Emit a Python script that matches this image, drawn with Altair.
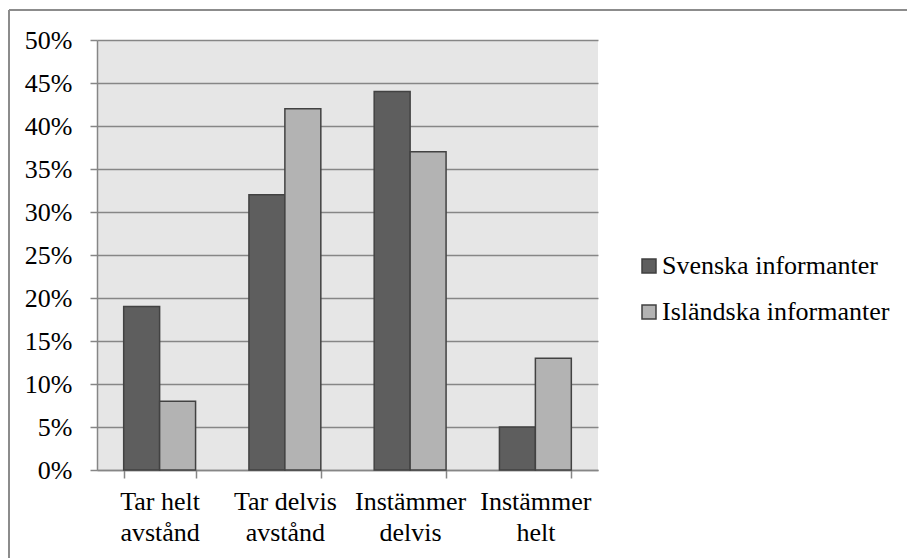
import altair as alt
import pandas as pd

# Survey answers per response category, share of informants (%)
categories = ["Tar helt avstånd", "Tar delvis avstånd", "Instämmer delvis", "Instämmer helt"]
# line break used for the two-line axis labels
label_lines = ["Tar helt|avstånd", "Tar delvis|avstånd", "Instämmer|delvis", "Instämmer|helt"]
series = ["Svenska informanter", "Isländska informanter"]
svenska = [19, 32, 44, 5]
islandska = [8, 42, 37, 13]
series_colors = ["#5e5e5e", "#b3b3b3"]
y_ticks = [0, 5, 10, 15, 20, 25, 30, 35, 40, 45, 50]

rows = []
for cat, lab, sv, isl in zip(categories, label_lines, svenska, islandska):
    rows.append({"kategori": lab, "grupp": series[0], "andel": sv})
    rows.append({"kategori": lab, "grupp": series[1], "andel": isl})
df = pd.DataFrame(rows)

FONT = "'Times New Roman', 'Liberation Serif', serif"
AXIS_GRAY = "#868686"

bars = alt.Chart(df).mark_bar(stroke="#424242", strokeWidth=1.5).encode(
    x=alt.X(
        "kategori:N",
        sort=label_lines,
        title=None,
        scale=alt.Scale(paddingInner=0.426, paddingOuter=0.213),
        axis=alt.Axis(
            labelAngle=0,
            labelExpr="split(datum.label, '|')",
            labelFont=FONT,
            labelFontSize=26,
            labelColor="black",
            labelLineHeight=31,
            labelPadding=10,
            tickBand="extent",
            tickSize=8,
            tickColor=AXIS_GRAY,
            tickWidth=1.5,
            domainColor=AXIS_GRAY,
            domainWidth=1.5,
            grid=False,
        ),
    ),
    xOffset=alt.XOffset("grupp:N", sort=series, scale=alt.Scale(paddingInner=0, paddingOuter=0)),
    y=alt.Y(
        "andel:Q",
        title=None,
        scale=alt.Scale(domain=[0, 50], nice=False),
        axis=alt.Axis(
            values=y_ticks,
            labelExpr="datum.value + '%'",
            labelFont=FONT,
            labelFontSize=26,
            labelColor="black",
            labelPadding=18,
            tickSize=7,
            tickColor=AXIS_GRAY,
            tickWidth=1.5,
            domainColor=AXIS_GRAY,
            domainWidth=1.5,
            gridColor=AXIS_GRAY,
            gridWidth=1.5,
        ),
    ),
    color=alt.Color(
        "grupp:N",
        sort=series,
        scale=alt.Scale(domain=series, range=series_colors),
        legend=alt.Legend(
            title=None,
            orient="none",
            legendX=539,
            legendY=213,
            padding=0,
            symbolType="square",
            symbolSize=196,
            symbolStrokeColor="#404040",
            symbolStrokeWidth=1.5,
            labelFont=FONT,
            labelFontSize=26,
            labelColor="black",
            labelOffset=0,
            rowPadding=20,
            labelLimit=400,
        ),
    ),
)

# outer frame: top and left edges
frame_top = alt.Chart(alt.Data(values=[{}])).mark_rule(color="#8c8c8c", strokeWidth=2).encode(
    x=alt.value(-88), x2=alt.value(810), y=alt.value(-30)
)
frame_left = alt.Chart(alt.Data(values=[{}])).mark_rule(color="#8c8c8c", strokeWidth=2).encode(
    x=alt.value(-88), y=alt.value(-30), y2=alt.value(518)
)

chart = (
    alt.layer(bars, frame_top, frame_left)
    .properties(
        width=501,
        height=430,
        padding={"left": 97, "top": 40, "right": 309, "bottom": 88},
        autosize=alt.AutoSizeParams(type="none"),
        background="white",
    )
    .configure(font=FONT)
    .configure_view(fill="#e6e6e6", stroke=None)
)

chart.save("out.html", embed_options={"renderer": "svg", "actions": False})
